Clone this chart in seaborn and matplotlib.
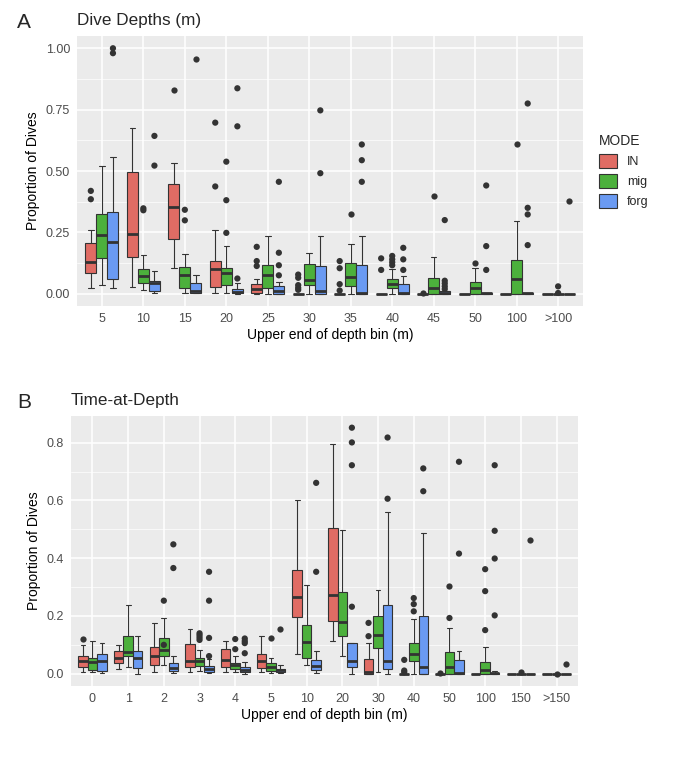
import numpy as np
import pandas as pd
import matplotlib
matplotlib.use("Agg")
import matplotlib.pyplot as plt
import seaborn as sns
from matplotlib.ticker import FormatStrFormatter, MultipleLocator

sns.set_theme(style="darkgrid")
plt.rcParams['font.family'] = ['Liberation Sans', 'DejaVu Sans']

modes = ['IN', 'mig', 'forg']
mode_colors = ['#E06C64', '#4CB03C', '#6A9AF2']

# ---- Panel A: Dive depths ----
# box stats per bin: (lower whisker, q1, median, q3, upper whisker)
depth_bins = ['5', '10', '15', '20', '25', '30', '35', '40', '45', '50', '100', '>100']
depth_in = [(0.022, 0.084, 0.131, 0.205, 0.261), (0.026, 0.150, 0.243, 0.495, 0.677),
            (0.106, 0.224, 0.353, 0.449, 0.531), (0.003, 0.026, 0.100, 0.132, 0.261),
            (0.0, 0.003, 0.019, 0.038, 0.062), (0, 0, 0, 0, 0), (0, 0, 0, 0, 0),
            (0, 0, 0, 0, 0), (0, 0, 0, 0, 0), (0, 0, 0, 0, 0), (0, 0, 0, 0, 0), (0, 0, 0, 0, 0)]
depth_mig = [(0.036, 0.147, 0.240, 0.326, 0.520), (0.016, 0.042, 0.073, 0.102, 0.156),
             (0.005, 0.022, 0.078, 0.109, 0.160), (0.003, 0.035, 0.086, 0.106, 0.194),
             (0.0, 0.024, 0.077, 0.116, 0.237), (0.0, 0.035, 0.055, 0.123, 0.164),
             (0.0, 0.030, 0.070, 0.124, 0.204), (0.0, 0.024, 0.039, 0.058, 0.102),
             (0.0, 0.0, 0.022, 0.063, 0.150), (0.0, 0.0, 0.022, 0.046, 0.106),
             (0.0, 0.0, 0.062, 0.136, 0.298), (0, 0, 0, 0, 0)]
depth_forg = [(0.022, 0.059, 0.209, 0.334, 0.558), (0.005, 0.011, 0.043, 0.050, 0.093),
              (0.003, 0.005, 0.011, 0.043, 0.078), (0.0, 0.003, 0.009, 0.019, 0.043),
              (0.0, 0.0, 0.013, 0.030, 0.046), (0.0, 0.0, 0.011, 0.113, 0.237),
              (0.0, 0.0, 0.005, 0.119, 0.235), (0.0, 0.0, 0.003, 0.039, 0.073),
              (0.0, 0.0, 0.003, 0.011, 0.011), (0.0, 0.0, 0.003, 0.003, 0.003),
              (0.0, 0.0, 0.003, 0.003, 0.003), (0, 0, 0, 0, 0)]
depth_in_out = [[0.419, 0.385], [], [0.830], [0.697, 0.437], [0.191, 0.133, 0.113],
                [0.078, 0.065, 0.035, 0.024, 0.016], [0.133, 0.104, 0.039, 0.013],
                [0.144, 0.097], [0.003], [], [], []]
depth_mig_out = [[], [0.348, 0.340], [0.342, 0.299], [0.538, 0.381, 0.248], [], [],
                 [0.323], [0.154, 0.140, 0.128, 0.116], [0.398], [0.124], [0.612], [0.030, 0.003]]
depth_forg_out = [[1.0, 0.98], [0.643, 0.522], [0.958], [0.837, 0.682, 0.062],
                  [0.456, 0.167, 0.116, 0.075], [0.747, 0.491], [0.608, 0.544, 0.456],
                  [0.187, 0.140, 0.097], [0.300, 0.053, 0.042, 0.030, 0.019],
                  [0.441, 0.194, 0.097], [0.775, 0.350, 0.323, 0.198], [0.377]]

# ---- Panel B: Time-at-depth ----
tad_bins = ['0', '1', '2', '3', '4', '5', '10', '20', '30', '40', '50', '100', '150', '>150']
tad_in = [(0.007, 0.022, 0.044, 0.060, 0.100), (0.016, 0.037, 0.056, 0.077, 0.100),
          (0.007, 0.030, 0.062, 0.092, 0.174), (0.007, 0.025, 0.045, 0.103, 0.156),
          (0.007, 0.025, 0.048, 0.087, 0.115), (0.005, 0.021, 0.043, 0.070, 0.131),
          (0.068, 0.195, 0.264, 0.359, 0.600), (0.113, 0.182, 0.271, 0.506, 0.795),
          (0.0, 0.0, 0.005, 0.051, 0.105), (0, 0, 0, 0, 0), (0, 0, 0, 0, 0),
          (0, 0, 0, 0, 0), (0, 0, 0, 0, 0), (0, 0, 0, 0, 0)]
tad_mig = [(0.005, 0.014, 0.040, 0.053, 0.114), (0.025, 0.060, 0.076, 0.130, 0.237),
           (0.030, 0.060, 0.083, 0.123, 0.193), (0.010, 0.028, 0.044, 0.056, 0.083),
           (0.005, 0.016, 0.030, 0.037, 0.062), (0.002, 0.009, 0.022, 0.036, 0.056),
           (0.030, 0.053, 0.109, 0.169, 0.306), (0.062, 0.129, 0.179, 0.283, 0.497),
           (0.005, 0.090, 0.134, 0.199, 0.289), (0.0, 0.043, 0.067, 0.105, 0.189),
           (0.0, 0.0, 0.022, 0.074, 0.160), (0.0, 0.0, 0.014, 0.039, 0.094),
           (0, 0, 0, 0, 0), (0, 0, 0, 0, 0)]
tad_forg = [(0.002, 0.008, 0.044, 0.067, 0.108), (0.0, 0.020, 0.053, 0.080, 0.130),
            (0.002, 0.008, 0.021, 0.036, 0.061), (0.002, 0.007, 0.018, 0.028, 0.051),
            (0.0, 0.005, 0.014, 0.024, 0.039), (0.002, 0.007, 0.013, 0.017, 0.030),
            (0.002, 0.013, 0.026, 0.048, 0.080), (0.0, 0.025, 0.045, 0.106, 0.108),
            (0.0, 0.016, 0.045, 0.237, 0.560), (0.0, 0.0, 0.022, 0.199, 0.487),
            (0.0, 0.0, 0.002, 0.046, 0.079), (0.0, 0.0, 0.004, 0.004, 0.008),
            (0, 0, 0, 0, 0), (0, 0, 0, 0, 0)]
tad_in_out = [[0.120], [], [], [], [], [], [], [], [0.176, 0.130], [0.048, 0.011, 0.005],
              [0.002], [], [], []]
tad_mig_out = [[], [], [0.253, 0.100], [0.140, 0.133, 0.125, 0.117], [0.120, 0.085],
               [0.123], [], [], [], [0.262, 0.241, 0.216], [0.302, 0.193],
               [0.362, 0.286, 0.151], [0.007], [0.0]]
tad_forg_out = [[], [], [0.448, 0.366], [0.353, 0.253, 0.124, 0.061],
                [0.122, 0.113, 0.106, 0.071], [0.156], [0.661, 0.353],
                [0.852, 0.801, 0.722, 0.232], [0.818, 0.606], [0.711, 0.632],
                [0.734, 0.416], [0.722, 0.495, 0.399, 0.202], [0.462], [0.033]]


def build_frames(bins, stats, outs):
    box_rows, out_rows = [], []
    for mode, st, ot in zip(modes, stats, outs):
        for b, five, pts in zip(bins, st, ot):
            for v in five:
                box_rows.append({'bin': b, 'MODE': mode, 'value': v})
            for v in pts:
                out_rows.append({'bin': b, 'MODE': mode, 'value': v})
    return pd.DataFrame(box_rows), pd.DataFrame(out_rows)


def draw_panel(ax, bins, stats, outs, ymax, step, fmt, legend):
    boxes, points = build_frames(bins, stats, outs)
    sns.boxplot(data=boxes, x='bin', y='value', hue='MODE', order=bins, hue_order=modes,
                palette=mode_colors, whis=(0, 100), showfliers=False, width=0.8,
                linecolor='#333333', linewidth=0.8, saturation=1,
                medianprops={'linewidth': 2, 'color': '#333333'},
                legend=legend, ax=ax)
    sns.stripplot(data=points, x='bin', y='value', hue='MODE', order=bins, hue_order=modes,
                  palette={m: '#333333' for m in modes}, dodge=True, jitter=False,
                  size=4.5, legend=False, ax=ax)
    ax.set_xlim(-0.6, len(bins) - 0.4)
    ax.set_ylim(-0.05 * ymax, 1.05 * ymax)
    ax.yaxis.set_major_locator(MultipleLocator(step))
    ax.yaxis.set_minor_locator(MultipleLocator(step / 2))
    ax.yaxis.set_major_formatter(FormatStrFormatter(fmt))
    ax.set_facecolor('#EBEBEB')
    ax.grid(which='major', color='white', linewidth=1.1)
    ax.grid(which='minor', axis='y', color='white', linewidth=0.5)
    ax.tick_params(axis='both', which='major', length=3, color='#333333',
                   labelsize=9, labelcolor='#4D4D4D', pad=2)
    ax.tick_params(axis='y', which='minor', length=0)
    ax.set_xlabel('Upper end of depth bin (m)', fontsize=10, color='black', labelpad=2)
    ax.set_ylabel('Proportion of Dives', fontsize=10, color='black', labelpad=4)
    for s in ax.spines.values():
        s.set_visible(False)


fig = plt.figure(figsize=(6.78, 7.6), dpi=100)
fig.patch.set_facecolor('white')
axA = fig.add_axes([77 / 678, 1 - 306 / 760, 506 / 678, 270 / 760])
axB = fig.add_axes([71 / 678, 1 - 686 / 760, 507 / 678, 270 / 760])

draw_panel(axA, depth_bins, [depth_in, depth_mig, depth_forg],
           [depth_in_out, depth_mig_out, depth_forg_out], 1.0, 0.25, '%.2f', True)
draw_panel(axB, tad_bins, [tad_in, tad_mig, tad_forg],
           [tad_in_out, tad_mig_out, tad_forg_out], 0.85, 0.2, '%.1f', False)

axA.set_title('Dive Depths (m)', loc='left', fontsize=12.3, pad=8)
axB.set_title('Time-at-Depth', loc='left', fontsize=12.3, pad=8)

sns.move_legend(axA, 'center left', bbox_to_anchor=(1.01, 0.5), title='MODE',
                frameon=False, fontsize=9, title_fontsize=10,
                handlelength=1.4, handleheight=1.3, labelspacing=0.5)
axA.get_legend()._legend_box.align = 'left'

fig.text(17 / 678, 1 - 22 / 760, 'A', fontsize=15, va='center', ha='left')
fig.text(17 / 678, 1 - 402 / 760, 'B', fontsize=15, va='center', ha='left')

fig.savefig('out.png', dpi=100)
